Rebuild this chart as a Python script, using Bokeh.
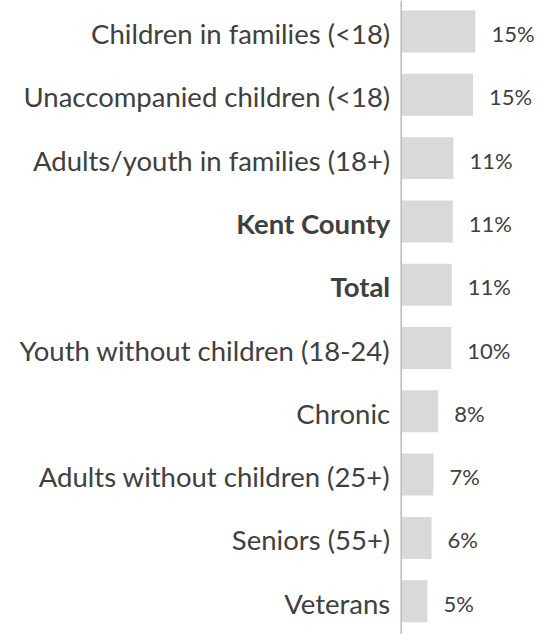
from bokeh.plotting import figure
from bokeh.models import Range1d, Span, ColumnDataSource
from bokeh.core.properties import value
from bokeh.embed import file_html
from bokeh.resources import INLINE

# ---- data ----
categories = [
    "Children in families (<18)",
    "Unaccompanied children (<18)",
    "Adults/youth in families (18+)",
    "Kent County",
    "Total",
    "Youth without children (18-24)",
    "Chronic",
    "Adults without children (25+)",
    "Seniors (55+)",
    "Veterans",
]
rates = [15.4, 14.9, 10.85, 10.7, 10.5, 10.4, 7.7, 6.7, 6.3, 5.45]
rate_labels = ["15%", "15%", "11%", "11%", "11%", "10%", "8%", "7%", "6%", "5%"]
bold_categories = ["Kent County", "Total"]

# ---- layout ----
rows = list(range(len(categories)))
TEXT = "#404040"
FONT = "Lato"

p = figure(width=546, height=634, output_backend="svg", toolbar_location=None,
           x_range=Range1d(-83.13, 30.15), y_range=Range1d(9.526, -0.49),
           min_border=0, min_border_left=0, min_border_right=0,
           min_border_top=0, min_border_bottom=0)
p.axis.visible = False
p.grid.visible = False
p.outline_line_color = None
p.background_fill_color = "white"

src = ColumnDataSource(dict(y=rows, cat=categories, v=rates, lab=rate_labels,
                            zero=[0] * len(rows)))
p.hbar(y="y", left="zero", right="v", height=0.663, source=src,
       fill_color="#d9d9d9", line_color=None)

p.add_layout(Span(location=0, dimension="height", line_color="#bfbfbf", line_width=1.6))

# value labels
p.text(x="v", y="y", text="lab", source=src, x_offset=16, y_offset=2,
       text_align="left", text_baseline="middle", text_color=TEXT,
       text_font=value(FONT), text_font_size="22px")

# category labels
normal = [i for i, c in enumerate(categories) if c not in bold_categories]
bold = [i for i, c in enumerate(categories) if c in bold_categories]
for idx, style in ((normal, "normal"), (bold, "bold")):
    s = ColumnDataSource(dict(y=[rows[i] for i in idx], cat=[categories[i] for i in idx],
                              zero=[0] * len(idx)))
    p.text(x="zero", y="y", text="cat", source=s, x_offset=-11, y_offset=2,
           text_align="right", text_baseline="middle", text_color=TEXT,
           text_font=value(FONT), text_font_size="27.5px", text_font_style=style)

open("out.html", "w").write(file_html(p, INLINE))
